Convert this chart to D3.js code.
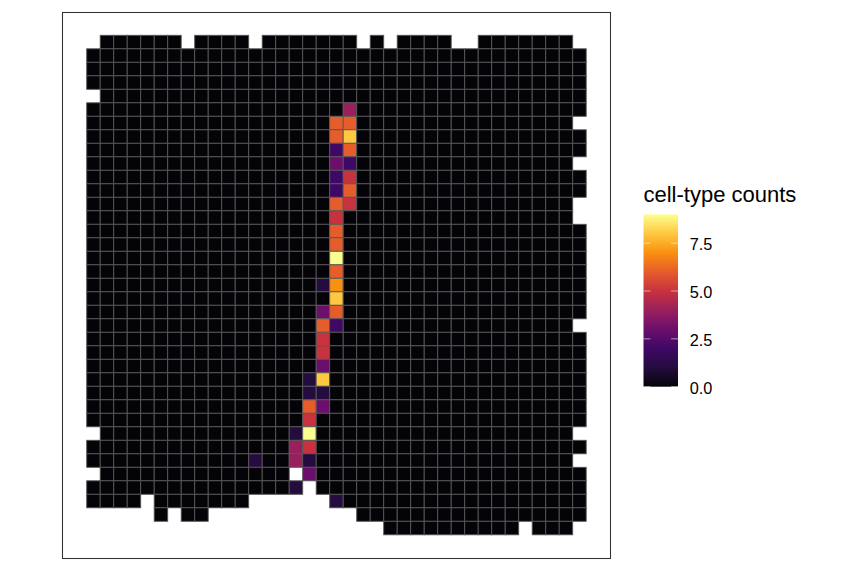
<!DOCTYPE html>
<html>
<head>
<meta charset="utf-8">
<script src="https://d3js.org/d3.v7.min.js"></script>
<style>
  html, body { margin: 0; background: #fff; }
  svg { display: block; }
  text { font-family: "Liberation Sans", Arial, sans-serif; fill: #000; }
</style>
</head>
<body>
<svg width="864" height="576"></svg>
<script>
// counts per spot, top row first, '.' = no spot on the array. spaces only split every 10 columns
const spotRows = [
  '.000000.00 00.0000000 .0.0000..0 000000.',
  '0000000000 0000000000 0000000000 0000000',
  '0000000000 0000000000 0000000000 0000000',
  '0000000000 0000000000 0000000000 0000000',
  '.000000000 0000000000 0000000000 0000000',
  '0000000000 0000000004 0000000000 0000000',
  '0000000000 0000000066 0000000000 000000.',
  '0000000000 0000000068 0000000000 0000000',
  '0000000000 0000000026 0000000000 0000000',
  '0000000000 0000000032 0000000000 000000.',
  '0000000000 0000000025 0000000000 0000000',
  '0000000000 0000000026 0000000000 0000000',
  '0000000000 0000000065 0000000000 000000.',
  '0000000000 0000000050 0000000000 000000.',
  '0000000000 0000000060 0000000000 0000000',
  '0000000000 0000000060 0000000000 0000000',
  '0000000000 0000000090 0000000000 0000000',
  '0000000000 0000000060 0000000000 0000000',
  '0000000000 0000000170 0000000000 0000000',
  '0000000000 0000000080 0000000000 0000000',
  '0000000000 0000000360 0000000000 0000000',
  '0000000000 0000000620 0000000000 000000.',
  '0000000000 0000000500 0000000000 0000000',
  '0000000000 0000000500 0000000000 0000000',
  '0000000000 0000000300 0000000000 0000000',
  '0000000000 0000001800 0000000000 0000000',
  '0000000000 0000001100 0000000000 0000000',
  '0000000000 0000006300 0000000000 0000000',
  '0000000000 0000005000 0000000000 0000000',
  '.000000000 0000019000 0000000000 000000.',
  '0000000000 0000045000 0000000000 0000000',
  '0000000000 0010041000 0000000000 000000.',
  '.000000000 00000.3000 0000000000 0000000',
  '0000000000 000001.000 0000000000 0000000',
  '0000.00000 00......10 0000000000 0000000',
  '.....0.00. .......... 0000000000 0000000',
  '.......... .......... ..00000000 00.000.'
]
const maxCount = 9
// colour of each count 0..9, as read from the tiles
const countColors = ['#040408', '#250c3e', '#3f0866', '#6c0e6c', '#99205c', '#c8323e', '#e65c2b', '#fa9010', '#fec840', '#fcff90']
const legendTicks = [0, 2.5, 5, 7.5]
const legendTitle = 'cell-type counts'

const size = { left: 62.5, right: 610.5, top: 12.5, bottom: 558.5 }
const grid = { x0: 86.7, x1: 586.2, y0: 35.3, y1: 534.8 }
const bar = { x: 643.5, width: 34.5, y0: 386.7, y1: 214.4 }

const spots = []
spotRows.forEach((line, row) => {
  line.replace(/ /g, '').split('').forEach((c, col) => {
    if (c !== '.') spots.push({ row, col, count: +c })
  })
})

const svg = d3.select('svg')
const x = d3.scaleBand().domain(d3.range(37)).range([grid.x0, grid.x1])
const y = d3.scaleBand().domain(d3.range(spotRows.length)).range([grid.y0, grid.y1])
const color = d3.scaleLinear().domain(d3.range(maxCount + 1)).range(countColors)

svg.append('g')
  .selectAll('rect')
  .data(spots)
  .join('rect')
  .attr('x', d => x(d.col))
  .attr('y', d => y(d.row))
  .attr('width', x.bandwidth())
  .attr('height', y.bandwidth())
  .attr('fill', d => color(d.count))
  .attr('stroke', '#575757')
  .attr('stroke-width', 0.9)

svg.append('rect')
  .attr('x', size.left)
  .attr('y', size.top)
  .attr('width', size.right - size.left)
  .attr('height', size.bottom - size.top)
  .attr('fill', 'none')
  .attr('stroke', '#333333')
  .attr('stroke-width', 1.07)

// legend
const legendY = d3.scaleLinear().domain([0, maxCount]).range([bar.y0, bar.y1])
const gradient = svg.append('defs').append('linearGradient')
  .attr('id', 'legend-fill')
  .attr('x1', 0).attr('y1', 1).attr('x2', 0).attr('y2', 0)
gradient.selectAll('stop')
  .data(countColors)
  .join('stop')
  .attr('offset', (d, i) => i / maxCount)
  .attr('stop-color', d => d)

svg.append('rect')
  .attr('x', bar.x)
  .attr('y', bar.y1)
  .attr('width', bar.width)
  .attr('height', bar.y0 - bar.y1)
  .attr('fill', 'url(#legend-fill)')

const tickLen = bar.width / 5
svg.append('g')
  .selectAll('path')
  .data(legendTicks)
  .join('path')
  .attr('d', d => `M${bar.x},${legendY(d)}h${tickLen}M${bar.x + bar.width - tickLen},${legendY(d)}h${tickLen}`)
  .attr('stroke', '#fff')
  .attr('stroke-width', 0.55)

const legendAxis = svg.append('g')
  .attr('transform', `translate(${bar.x + bar.width},1.2)`)
  .call(d3.axisRight(legendY).tickValues(legendTicks).tickSize(0).tickPadding(11.7).tickFormat(d3.format('.1f')))
legendAxis.select('.domain').remove()
legendAxis.selectAll('text')
  .style('font-size', '16.3px')
  .style('font-family', '"Liberation Sans", Arial, sans-serif')

svg.append('text')
  .attr('x', bar.x)
  .attr('y', 202)
  .style('font-size', '22px')
  .text(legendTitle)
</script>
</body>
</html>
